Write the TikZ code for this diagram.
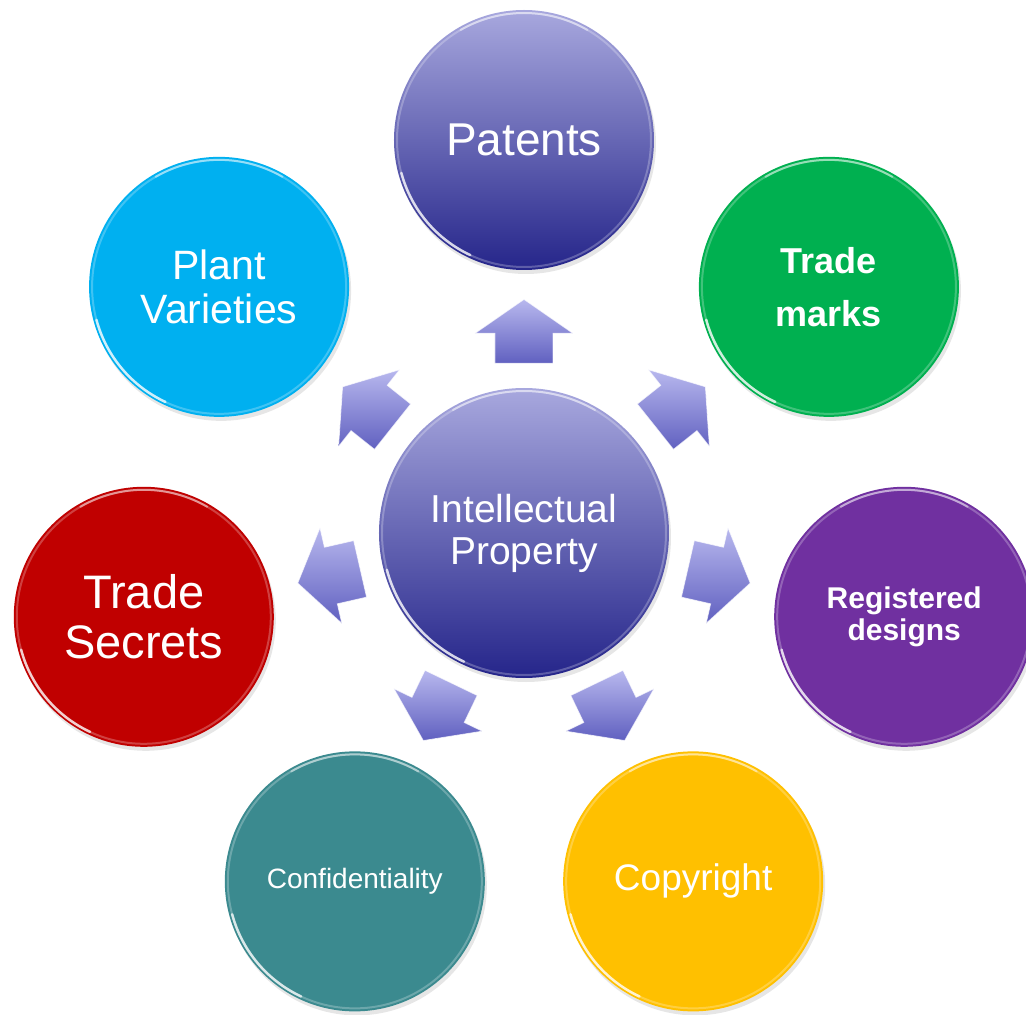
\documentclass[tikz,border=0pt]{standalone}
\usepackage{fontspec}
\setmainfont{Liberation Sans}
\usetikzlibrary{calc, shadows}

\definecolor{ipTop}{HTML}{A8A8DE}
\definecolor{ipBottom}{HTML}{25258A}
\definecolor{pvBlue}{HTML}{00B0F0}
\definecolor{tmGreen}{HTML}{00B050}
\definecolor{rdPurple}{HTML}{7030A0}
\definecolor{cpGold}{HTML}{FFC000}
\definecolor{cfTeal}{HTML}{3B8A8F}
\definecolor{tsRed}{HTML}{C00000}
\definecolor{arTop}{HTML}{B8B8EE}
\definecolor{arBottom}{HTML}{6060C0}

\tikzset{
    ball/.style={circle, minimum size=260pt, inner sep=0pt, align=center, text=white,
        drop shadow={opacity=.2, shadow xshift=2pt, shadow yshift=-4pt},
        path picture={
            \draw[white, opacity=.25, line width=2pt] (path picture bounding box.center) circle[radius=#1];
            \draw[white, opacity=.75, line width=2.5pt, line cap=round]
                ([shift={(195:#1)}]path picture bounding box.center) arc[start angle=195, end angle=245, radius=#1];
            \draw[white, opacity=.45, line width=2pt, line cap=round]
                ([shift={(60:#1)}]path picture bounding box.center) arc[start angle=60, end angle=120, radius=#1];
        }},
    ball/.default=127pt,
    ipArrow/.pic={
        \path[top color=arTop, bottom color=arBottom, draw=white, draw opacity=.7, line width=.8pt]
            (-32pt,-29pt) -- (-2pt,-29pt) -- (-2pt,-49pt) -- (32pt,0pt) -- (-2pt,49pt) -- (-2pt,29pt) -- (-32pt,29pt) -- cycle;
    }
}

\begin{document}
\begin{tikzpicture}
        \useasboundingbox (-524pt,-485pt) rectangle (502pt,530pt);

        %-----Circles-----

        % Intellectual Property (centre)
        \node[ball=142pt, minimum size=290pt, top color=ipTop, bottom color=ipBottom,
              font=\fontsize{39}{42}\selectfont] (ip) at (0,-3pt) {Intellectual\\Property};

        % Patents
        \node[ball, top color=ipTop, bottom color=ipBottom,
              font=\fontsize{46}{50}\selectfont] (pat) at (0,390pt) {Patents};

        % Trade marks
        \node[ball, fill=tmGreen, font=\bfseries\fontsize{36}{53}\selectfont] (tm) at (38.57:390pt) {Trade\\marks};

        % Registered designs
        \node[ball, fill=rdPurple, font=\bfseries\fontsize{30}{32}\selectfont] (rd) at (-12.86:390pt) {Registered\\designs};

        % Copyright
        \node[ball, fill=cpGold, font=\fontsize{37}{40}\selectfont] (cp) at (-64.29:390pt) {Copyright};

        % Confidentiality
        \node[ball, fill=cfTeal, font=\fontsize{28}{32}\selectfont] (cf) at (-115.71:390pt) {Confidentiality};

        % Trade Secrets
        \node[ball, fill=tsRed, font=\fontsize{47}{50}\selectfont] (ts) at (192.86:390pt) {Trade\\Secrets};

        % Plant Varieties
        \node[ball, fill=pvBlue, font=\fontsize{41}{44}\selectfont] (pv) at (141.43:390pt) {Plant\\Varieties};

        %-----Arrows-----

        % Centre to Patents
        \pic[rotate=90] at ($(ip)!0.513!(pat)$) {ipArrow};

        % Centre to Trade marks
        \pic[rotate=38.57] at ($(ip)!0.513!(tm)$) {ipArrow};

        % Centre to Registered designs
        \pic[rotate=-12.86] at ($(ip)!0.513!(rd)$) {ipArrow};

        % Centre to Copyright
        \pic[rotate=-64.29] at ($(ip)!0.513!(cp)$) {ipArrow};

        % Centre to Confidentiality
        \pic[rotate=-115.71] at ($(ip)!0.513!(cf)$) {ipArrow};

        % Centre to Trade Secrets
        \pic[rotate=192.86] at ($(ip)!0.513!(ts)$) {ipArrow};

        % Centre to Plant Varieties
        \pic[rotate=141.43] at ($(ip)!0.513!(pv)$) {ipArrow};

\end{tikzpicture}
\end{document}
